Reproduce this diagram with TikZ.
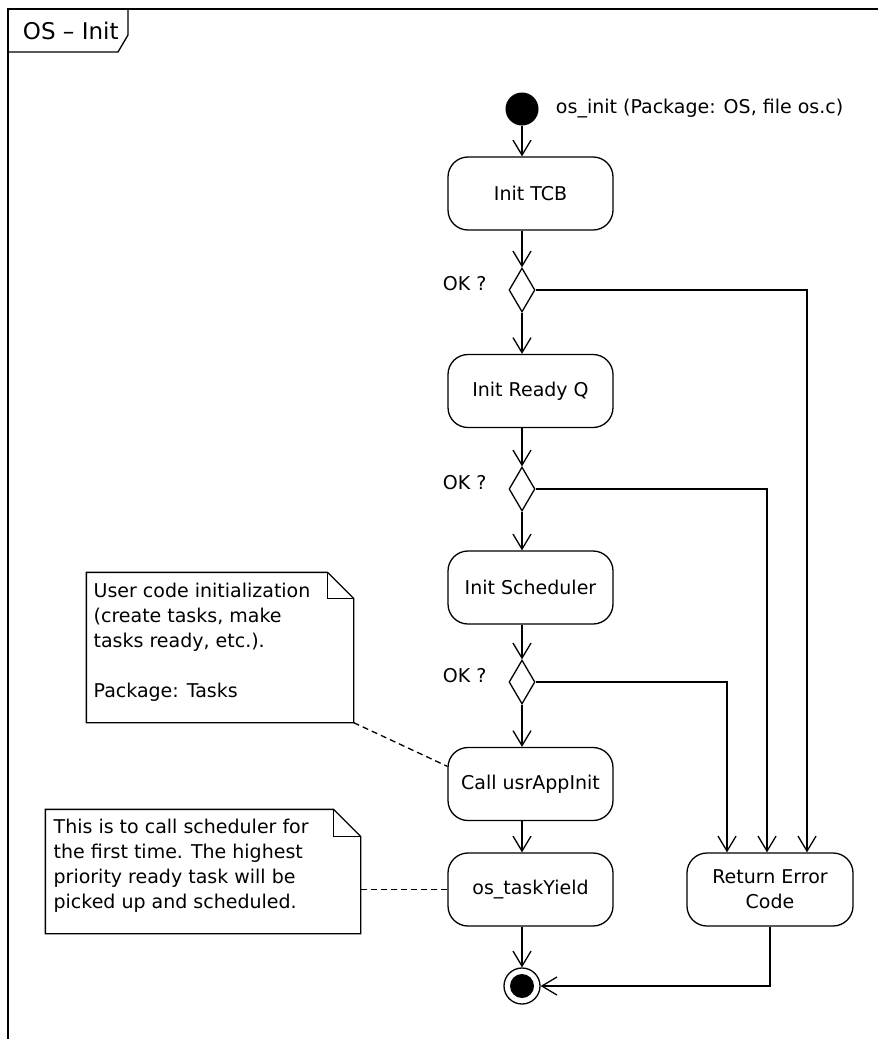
\documentclass[tikz,border=0pt]{standalone}
\usepackage{fontspec}
\setmainfont{DejaVu Sans}
\usetikzlibrary{arrows.meta,shapes.geometric,calc}

\begin{document}
\begin{tikzpicture}[x=1pt,y=-1pt,
  line width=1.3pt,
  every node/.style={font=\fontsize{19}{25}\selectfont},
  action/.style={draw, rounded corners=20pt, minimum width=165pt,
    minimum height=73pt, inner sep=0pt, align=center},
  decision/.style={draw, diamond, minimum width=26pt, minimum height=44pt,
    inner sep=0pt},
  flow/.style={-{Straight Barb[length=15pt,width=18pt]}},
  anchorline/.style={dash pattern=on 6pt off 4pt},
  notebody/.style={inner sep=0pt},
  notetext/.style={anchor=west, align=left, inner sep=0pt}
]
\useasboundingbox (0,0) rectangle (878,1039);

% diagram frame and its name tab
\draw[line width=1.6pt] (8,1039) -- (8,9) -- (878,9);
\draw (8,52) -- (118,52) -- (128,35) -- (128,9);
\node[anchor=west, font=\fontsize{23}{27}\selectfont] (title) at (19,31) {OS -- Init};

% initial node
\node[fill, circle, minimum size=33pt, inner sep=0pt] (start) at (522,109) {};
\node[anchor=west] (startlbl) at (552,109) {os\_init (Package: OS, file os.c)};

% actions and decisions
\node[action] (tcb) at (530.5,193.5) {Init TCB};
\node[decision] (d1) at (522,290) {};
\node[action] (rq) at (530.5,391) {Init Ready Q};
\node[decision] (d2) at (522,489) {};
\node[action] (sch) at (530.5,587.5) {Init Scheduler};
\node[decision] (d3) at (522,682) {};
\node[action] (cu) at (530.5,784) {Call usrAppInit};
\node[action] (ty) at (530.5,889.5) {os\_taskYield};
\node[action, minimum width=166pt] (ret) at (770,889.5) {Return Error\\Code};

% guard labels
\node[anchor=east] (g1) at ($(d1.west)+(-18,-6)$) {OK ?};
\node[anchor=east] (g2) at ($(d2.west)+(-18,-6)$) {OK ?};
\node[anchor=east] (g3) at ($(d3.west)+(-18,-6)$) {OK ?};

% final node
\node[draw, circle, minimum size=36pt, inner sep=0pt] (fin) at (522,986) {};
\node[fill, circle, minimum size=24pt, inner sep=0pt] (finin) at (fin) {};

% main flow
\draw[flow] (start) -- (start |- tcb.north);
\draw[flow] (start |- tcb.south) -- (d1.north);
\draw[flow] (d1.south) -- (d1 |- rq.north);
\draw[flow] (d1 |- rq.south) -- (d2.north);
\draw[flow] (d2.south) -- (d2 |- sch.north);
\draw[flow] (d2 |- sch.south) -- (d3.north);
\draw[flow] (d3.south) -- (d3 |- cu.north);
\draw[flow] (d3 |- cu.south) -- (d3 |- ty.north);
\draw[flow] (d3 |- ty.south) -- (fin.north);

% error branches
\coordinate (x1) at (807,0);
\coordinate (x2) at (767,0);
\coordinate (x3) at (727,0);
\draw[flow] (d1.east) -| (x1 |- ret.north);
\draw[flow] (d2.east) -| (x2 |- ret.north);
\draw[flow] (d3.east) -| (x3 |- ret.north);
\draw[flow] (ret.south) |- (fin.east);

% note: user code initialization
\node[notebody, minimum width=266pt, minimum height=149pt] (n1) at (220,647.5) {};
\draw (n1.south west) -- (n1.north west) -- ($(n1.north east)+(-26,0)$)
  -- ($(n1.north east)+(0,26)$) -- (n1.south east) -- cycle;
\draw ($(n1.north east)+(-26,0)$) -- ($(n1.north east)+(-26,26)$)
  -- ($(n1.north east)+(0,26)$);
\node[notetext] (n1t) at (93,642) {User code initialization\\(create tasks, make\\tasks ready, etc.).\\[25pt]Package: Tasks};
\draw[anchorline] (n1.south east) -- (cu.168);

% note: first call of the scheduler
\node[notebody, minimum width=314pt, minimum height=123pt] (n2) at (203,871.5) {};
\draw (n2.south west) -- (n2.north west) -- ($(n2.north east)+(-27,0)$)
  -- ($(n2.north east)+(0,27)$) -- (n2.south east) -- cycle;
\draw ($(n2.north east)+(-27,0)$) -- ($(n2.north east)+(-27,27)$)
  -- ($(n2.north east)+(0,27)$);
\node[notetext] (n2t) at (53,865.5) {This is to call scheduler for\\the first time. The highest\\priority ready task will be\\picked up and scheduled.};
\draw[anchorline] (ty.west) -- (ty.west -| n2.east);
\end{tikzpicture}
\end{document}
